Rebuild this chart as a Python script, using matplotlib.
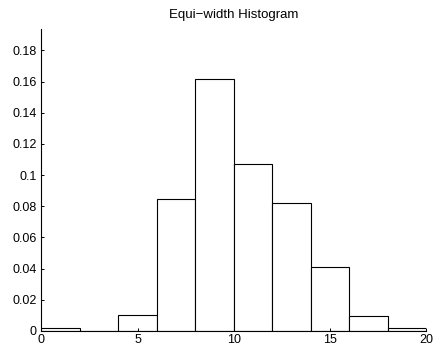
import matplotlib
matplotlib.use('Agg')
import matplotlib.pyplot as plt
import numpy as np

# bin edges and normalised counts of the histogram
bin_edges = [0, 2, 4, 6, 8, 10, 12, 14, 16, 18, 20]
density = [0.0017, 0.0, 0.0103, 0.085, 0.1615, 0.107, 0.082, 0.0413, 0.0098, 0.0018]
x_ticks = [0, 5, 10, 15, 20]
y_ticks = [0, 0.02, 0.04, 0.06, 0.08, 0.1, 0.12, 0.14, 0.16, 0.18]
y_tick_labels = ['0', '0.02', '0.04', '0.06', '0.08', '0.1', '0.12', '0.14', '0.16', '0.18']

plt.rc('font', family=['Liberation Sans', 'DejaVu Sans'], size=9)
fig = plt.figure(figsize=(4.35, 3.49), dpi=100)
ax = fig.add_axes([0.0954, 0.0516, 0.9796 - 0.0954, 0.918 - 0.0516])

widths = np.diff(bin_edges)
ax.bar(bin_edges[:-1], density, width=widths, align='edge',
       facecolor='white', edgecolor='black', linewidth=0.8)

ax.set_xlim(0, 20)
ax.set_ylim(0, 0.194)
ax.set_xticks(x_ticks)
ax.set_xticklabels([str(t) for t in x_ticks])
ax.set_yticks(y_ticks)
ax.set_yticklabels(y_tick_labels)
ax.tick_params(direction='in', length=2.5, width=0.7, pad=3.5, colors='black')
ax.tick_params(axis='x', pad=2)
for side in ['top', 'right']:
	ax.spines[side].set_visible(False)
for side in ['left', 'bottom']:
	ax.spines[side].set_linewidth(0.8)
ax.set_title('Equi\u2212width Histogram', fontsize=9.5, pad=8)

fig.savefig('out.png', dpi=100)
